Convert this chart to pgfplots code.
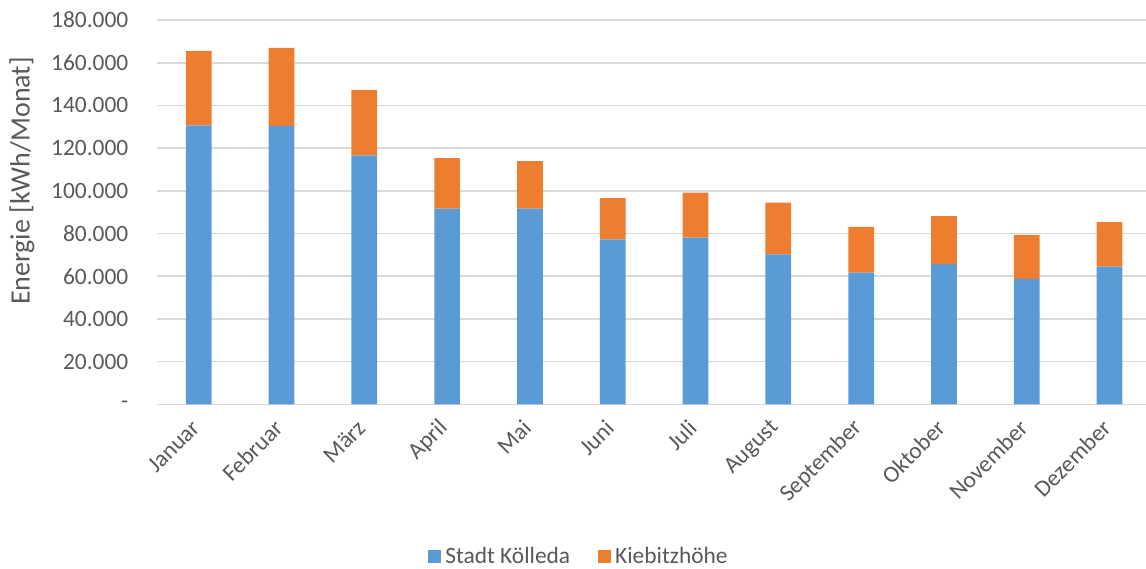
\documentclass[border=0pt]{standalone}
\usepackage{fontspec}
\setmainfont{Carlito}
\usepackage{pgfplots}
\pgfplotsset{compat=1.18}
\definecolor{cblue}{HTML}{5B9BD5}
\definecolor{corange}{HTML}{ED7D31}
\definecolor{cgrid}{HTML}{D9D9D9}
\definecolor{ctext}{HTML}{595959}
\begin{document}
\begin{tikzpicture}[x=1pt,y=1pt]
\begin{axis}[
  at={(78.65pt,81.85pt)}, anchor=south west,
  width=494.35pt, height=192.15pt, scale only axis,
  ybar stacked, bar width=12.85pt,
  xmin=-0.5, xmax=11.44, ymin=0, ymax=180000,
  scaled y ticks=false,
  xtick={0,...,11},
  xticklabels={Januar,Februar,März,April,Mai,Juni,Juli,August,September,Oktober,November,Dezember},
  ytick={0,20000,40000,60000,80000,100000,120000,140000,160000,180000},
  yticklabels={-,20.000,40.000,60.000,80.000,100.000,120.000,140.000,160.000,180.000},
  axis line style={draw=none},
  major tick length=0pt,
  ymajorgrids,
  major grid style={cgrid, line width=0.8pt},
  yticklabel style={font=\fontsize{11.7}{14}\selectfont, text=ctext, anchor=east, xshift=-11pt},
  xticklabel style={font=\fontsize{11.7}{14}\selectfont, text=ctext, yshift=-7.5pt, xshift=1pt, rotate=45, anchor=east},
  ylabel={Energie [kWh/Monat]},
  ylabel style={font=\fontsize{14}{16}\selectfont, text=ctext, at={(rel axis cs:-0.137,0.581)}, anchor=center},
  legend style={at={(rel axis cs:0.4275,-0.397)}, anchor=center, draw=none, fill=none,
    font=\fontsize{11.7}{14}\selectfont, text=ctext, legend columns=2,
    /tikz/every even column/.append style={column sep=12pt}},
  legend image code/.code={\fill[#1] (0pt,-3.25pt) rectangle (6.5pt,3.25pt);},
]
\addplot[fill=cblue, draw=none] coordinates {
 (0,130600) (1,130400) (2,116600) (3,91700) (4,91700) (5,77200)
 (6,78100) (7,70200) (8,61700) (9,65600) (10,58700) (11,64500)};
\addplot[fill=corange, draw=none] coordinates {
 (0,34900) (1,36500) (2,30600) (3,23600) (4,22200) (5,19400)
 (6,21100) (7,24300) (8,21400) (9,22500) (10,20700) (11,20800)};
\legend{Stadt Kölleda, Kiebitzhöhe}
\end{axis}
\pgfresetboundingbox
\path (0pt,0pt) rectangle (573pt,284pt);
\end{tikzpicture}
\end{document}
